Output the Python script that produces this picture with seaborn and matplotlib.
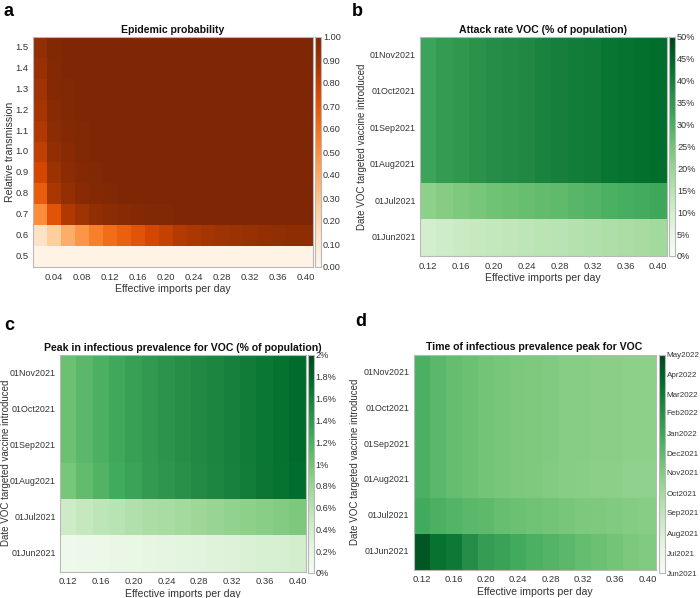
import numpy as np
import pandas as pd
import matplotlib
matplotlib.use("Agg")
import matplotlib.pyplot as plt
import matplotlib.dates as mdates
import seaborn as sns

sns.set_theme(style="white")
plt.rcParams["font.family"] = ["Liberation Sans", "DejaVu Sans"]

# ---------------- data ----------------
imports_a = [0.02, 0.04, 0.06, 0.08, 0.10, 0.12, 0.14, 0.16, 0.18, 0.20,
             0.22, 0.24, 0.26, 0.28, 0.30, 0.32, 0.34, 0.36, 0.38, 0.40]
rel_transmission = [0.5, 0.6, 0.7, 0.8, 0.9, 1.0, 1.1, 1.2, 1.3, 1.4, 1.5]
xticks_a = [0.04, 0.08, 0.12, 0.16, 0.20, 0.24, 0.28, 0.32, 0.36, 0.40]

# rows follow rel_transmission (0.5 ... 1.5)
epidemic_prob = [
    [0.02, 0.02, 0.02, 0.02, 0.02, 0.02, 0.02, 0.02, 0.02, 0.02, 0.02, 0.02, 0.02, 0.02, 0.02, 0.02, 0.02, 0.02, 0.02, 0.02],
    [0.15, 0.26, 0.38, 0.47, 0.55, 0.61, 0.66, 0.71, 0.76, 0.80, 0.84, 0.86, 0.88, 0.90, 0.91, 0.92, 0.93, 0.94, 0.95, 0.95],
    [0.50, 0.71, 0.85, 0.90, 0.94, 0.96, 0.97, 0.98, 0.99, 0.99, 1.00, 1.00, 1.00, 1.00, 1.00, 1.00, 1.00, 1.00, 1.00, 1.00],
    [0.67, 0.87, 0.93, 0.97, 0.98, 0.99, 1.00, 1.00, 1.00, 1.00, 1.00, 1.00, 1.00, 1.00, 1.00, 1.00, 1.00, 1.00, 1.00, 1.00],
    [0.76, 0.91, 0.96, 0.98, 0.99, 1.00, 1.00, 1.00, 1.00, 1.00, 1.00, 1.00, 1.00, 1.00, 1.00, 1.00, 1.00, 1.00, 1.00, 1.00],
    [0.81, 0.94, 0.97, 0.99, 1.00, 1.00, 1.00, 1.00, 1.00, 1.00, 1.00, 1.00, 1.00, 1.00, 1.00, 1.00, 1.00, 1.00, 1.00, 1.00],
    [0.85, 0.96, 0.98, 0.99, 1.00, 1.00, 1.00, 1.00, 1.00, 1.00, 1.00, 1.00, 1.00, 1.00, 1.00, 1.00, 1.00, 1.00, 1.00, 1.00],
    [0.88, 0.97, 0.99, 1.00, 1.00, 1.00, 1.00, 1.00, 1.00, 1.00, 1.00, 1.00, 1.00, 1.00, 1.00, 1.00, 1.00, 1.00, 1.00, 1.00],
    [0.90, 0.98, 0.99, 1.00, 1.00, 1.00, 1.00, 1.00, 1.00, 1.00, 1.00, 1.00, 1.00, 1.00, 1.00, 1.00, 1.00, 1.00, 1.00, 1.00],
    [0.92, 0.98, 1.00, 1.00, 1.00, 1.00, 1.00, 1.00, 1.00, 1.00, 1.00, 1.00, 1.00, 1.00, 1.00, 1.00, 1.00, 1.00, 1.00, 1.00],
    [0.94, 0.99, 1.00, 1.00, 1.00, 1.00, 1.00, 1.00, 1.00, 1.00, 1.00, 1.00, 1.00, 1.00, 1.00, 1.00, 1.00, 1.00, 1.00, 1.00],
]
cbar_ticks_a = [0.0, 0.1, 0.2, 0.3, 0.4, 0.5, 0.6, 0.7, 0.8, 0.9, 1.0]

imports_bcd = [0.12, 0.14, 0.16, 0.18, 0.20, 0.22, 0.24, 0.26, 0.28, 0.30,
               0.32, 0.34, 0.36, 0.38, 0.40]
xticks_bcd = [0.12, 0.16, 0.20, 0.24, 0.28, 0.32, 0.36, 0.40]
vaccine_dates = ["01Jun2021", "01Jul2021", "01Aug2021", "01Sep2021", "01Oct2021", "01Nov2021"]

# rows follow vaccine_dates (Jun ... Nov), values in % of population
attack_rate = [
    [10.0, 11.0, 12.0, 12.5, 13.0, 13.5, 14.0, 14.5, 15.0, 15.5, 16.0, 16.5, 17.0, 17.8, 18.6],
    [21.5, 22.5, 23.5, 24.5, 25.5, 26.0, 26.5, 27.0, 27.5, 28.5, 29.0, 30.0, 30.5, 31.2, 32.0],
    [32.5, 34.0, 35.0, 36.0, 37.0, 37.5, 38.0, 39.0, 40.0, 40.5, 41.0, 42.0, 42.5, 43.0, 43.5],
    [32.5, 34.0, 35.0, 36.0, 37.0, 37.5, 38.0, 39.0, 40.0, 40.5, 41.0, 42.0, 42.5, 43.0, 43.5],
    [32.5, 34.0, 35.0, 36.0, 37.0, 37.5, 38.0, 39.0, 40.0, 40.5, 41.0, 42.0, 42.5, 43.0, 43.5],
    [32.5, 34.0, 35.0, 36.0, 37.0, 37.5, 38.0, 39.0, 40.0, 40.5, 41.0, 42.0, 42.5, 43.0, 43.5],
]
cbar_ticks_b = [0, 5, 10, 15, 20, 25, 30, 35, 40, 45, 50]

peak_prevalence = [
    [0.12, 0.14, 0.16, 0.18, 0.20, 0.22, 0.24, 0.26, 0.28, 0.30, 0.32, 0.34, 0.36, 0.38, 0.40],
    [0.46, 0.51, 0.56, 0.60, 0.64, 0.68, 0.71, 0.74, 0.77, 0.80, 0.83, 0.86, 0.89, 0.92, 0.96],
    [0.98, 1.08, 1.17, 1.25, 1.31, 1.37, 1.42, 1.46, 1.50, 1.54, 1.58, 1.62, 1.66, 1.70, 1.74],
    [1.04, 1.12, 1.20, 1.27, 1.33, 1.38, 1.43, 1.47, 1.51, 1.55, 1.59, 1.63, 1.67, 1.71, 1.75],
    [1.04, 1.12, 1.20, 1.27, 1.33, 1.38, 1.43, 1.47, 1.51, 1.55, 1.59, 1.63, 1.67, 1.71, 1.75],
    [1.04, 1.12, 1.20, 1.27, 1.33, 1.38, 1.43, 1.47, 1.51, 1.55, 1.59, 1.63, 1.67, 1.71, 1.75],
]
cbar_ticks_c = [0, 0.2, 0.4, 0.6, 0.8, 1.0, 1.2, 1.4, 1.6, 1.8, 2.0]

peak_time = [
    ["2022-04-11", "2022-03-12", "2022-03-02", "2022-02-03", "2022-01-14", "2022-01-07", "2021-12-28", "2021-12-18",
     "2021-12-12", "2021-12-05", "2021-11-28", "2021-11-22", "2021-11-15", "2021-11-08", "2021-11-02"],
    ["2021-12-28", "2021-12-18", "2021-12-12", "2021-12-05", "2021-12-02", "2021-11-25", "2021-11-22", "2021-11-18",
     "2021-11-15", "2021-11-12", "2021-11-08", "2021-11-05", "2021-11-02", "2021-10-31", "2021-10-29"],
    ["2021-12-18", "2021-12-05", "2021-11-28", "2021-11-22", "2021-11-15", "2021-11-12", "2021-11-08", "2021-11-05",
     "2021-11-01", "2021-10-28", "2021-10-27", "2021-10-24", "2021-10-24", "2021-10-21", "2021-10-21"],
    ["2021-12-18", "2021-12-05", "2021-11-28", "2021-11-22", "2021-11-15", "2021-11-12", "2021-11-08", "2021-11-05",
     "2021-11-02", "2021-10-29", "2021-10-29", "2021-10-26", "2021-10-26", "2021-10-23", "2021-10-23"],
    ["2021-12-18", "2021-12-05", "2021-11-28", "2021-11-22", "2021-11-15", "2021-11-12", "2021-11-08", "2021-11-05",
     "2021-11-02", "2021-10-29", "2021-10-29", "2021-10-26", "2021-10-26", "2021-10-23", "2021-10-23"],
    ["2021-12-18", "2021-12-05", "2021-11-28", "2021-11-22", "2021-11-15", "2021-11-12", "2021-11-08", "2021-11-05",
     "2021-11-02", "2021-10-29", "2021-10-29", "2021-10-26", "2021-10-26", "2021-10-23", "2021-10-23"],
]
cbar_months_d = ["2021-06-01", "2021-07-01", "2021-08-01", "2021-09-01", "2021-10-01", "2021-11-01",
                 "2021-12-01", "2022-01-01", "2022-02-01", "2022-03-01", "2022-04-01", "2022-05-01"]

# ---------------- layout ----------------
W, H = 700, 598
fig = plt.figure(figsize=(W / 100, H / 100), dpi=100)


def px_axes(l, t, r, b):
    return fig.add_axes([l / W, 1 - b / H, (r - l) / W, (b - t) / H])


TXT = "#333333"
EDGE = "#b8b8b8"


def draw_panel(ax, cax, box, data, rows, cols, xticks, ylabels, cmap, vmin, vmax,
               cticks, clabels, title, ylabel, ylab_x, ylab_fs, ytick_fs, cfs=6.6):
    df = pd.DataFrame(data, index=rows, columns=cols).iloc[::-1]
    sns.heatmap(df, ax=ax, cbar_ax=cax, cmap=cmap, vmin=vmin, vmax=vmax,
                linewidths=0)
    cols_arr = np.array(cols)
    xpos = [int(np.argmin(np.abs(cols_arr - v))) + 0.5 for v in xticks]
    ax.set_xticks(xpos)
    ax.set_xticklabels([f"{v:.2f}" for v in xticks], rotation=0)
    ax.set_yticks(np.arange(len(rows)) + 0.5)
    ax.set_yticklabels(ylabels[::-1], rotation=0)
    ax.tick_params(axis="both", direction="in", length=3, width=0.6, color="#aaaaaa",
                   labelsize=6.8, labelcolor=TXT,
                   bottom=True, top=True, left=True, right=True)
    ax.tick_params(axis="x", pad=4)
    ax.tick_params(axis="y", pad=3, labelsize=ytick_fs)
    for s in ax.spines.values():
        s.set_visible(True)
        s.set_color(EDGE)
        s.set_linewidth(0.8)
    ax.set_xlabel("Effective imports per day", fontsize=7.6, color=TXT, labelpad=2)
    ax.set_ylabel(ylabel, fontsize=ylab_fs, color=TXT)
    l, t, r, b = box
    ax.yaxis.set_label_coords((ylab_x - l) / (r - l), 0.5)
    ax.set_title(title, fontsize=7.6, fontweight="bold", color="#111111", pad=3)
    cb = ax.collections[0].colorbar
    cb.set_ticks(cticks)
    cb.set_ticklabels(clabels)
    cb.outline.set_visible(True)
    cb.outline.set_edgecolor(EDGE)
    cb.outline.set_linewidth(0.8)
    cax.tick_params(direction="in", length=2.5, width=0.6, color="#aaaaaa",
                    labelsize=cfs, labelcolor=TXT, pad=1.5, left=True, right=True)


# panel a
box_a = (33, 37, 313, 267)
ax_a = px_axes(*box_a)
cax_a = px_axes(315, 37, 321, 267)
draw_panel(ax_a, cax_a, box_a, epidemic_prob, rel_transmission, imports_a, xticks_a,
           [f"{v:.1f}" for v in rel_transmission], "Oranges", 0, 1,
           cbar_ticks_a, [f"{v:.2f}" for v in cbar_ticks_a],
           "Epidemic probability", "Relative transmission", 15, 7.6, 6.8)

# panel b
box_b = (420, 37, 666.5, 256)
ax_b = px_axes(*box_b)
cax_b = px_axes(669, 37, 675, 256)
draw_panel(ax_b, cax_b, box_b, attack_rate, vaccine_dates, imports_bcd, xticks_bcd,
           vaccine_dates, "Greens", 0, 50,
           cbar_ticks_b, [f"{v}%" for v in cbar_ticks_b],
           "Attack rate VOC (% of population)", "Date VOC targeted vaccine introduced",
           367, 7.0, 6.4)

# panel c
box_c = (60, 355, 305.5, 571.5)
ax_c = px_axes(*box_c)
cax_c = px_axes(307.5, 355, 313.5, 573)
draw_panel(ax_c, cax_c, box_c, peak_prevalence, vaccine_dates, imports_bcd, xticks_bcd,
           vaccine_dates, "Greens", 0, 2,
           cbar_ticks_c, [f"{v:g}%" for v in cbar_ticks_c],
           "Peak in infectious prevalence for VOC (% of population)",
           "Date VOC targeted vaccine introduced", 11, 7.0, 6.4)

# panel d
peak_time_num = [[mdates.date2num(pd.Timestamp(d)) for d in row] for row in peak_time]
month_nums = [mdates.date2num(pd.Timestamp(d)) for d in cbar_months_d]
box_d = (413.5, 354.5, 655.5, 569.5)
ax_d = px_axes(*box_d)
cax_d = px_axes(658.5, 354.5, 664.5, 573)
draw_panel(ax_d, cax_d, box_d, peak_time_num, vaccine_dates, imports_bcd, xticks_bcd,
           vaccine_dates, "Greens", month_nums[0], month_nums[-1],
           month_nums, [pd.Timestamp(d).strftime("%b%Y") for d in cbar_months_d],
           "Time of infectious prevalence peak for VOC",
           "Date VOC targeted vaccine introduced", 360, 7.0, 6.4, cfs=5.8)

for lab, x, y in [("a", 4, 11), ("b", 352, 11), ("c", 4, 325), ("d", 355, 322)]:
    fig.text(x / W, 1 - y / H, lab, fontsize=13, fontweight="bold", va="center",
             ha="left", color="black")

fig.savefig("out.png", dpi=100)
